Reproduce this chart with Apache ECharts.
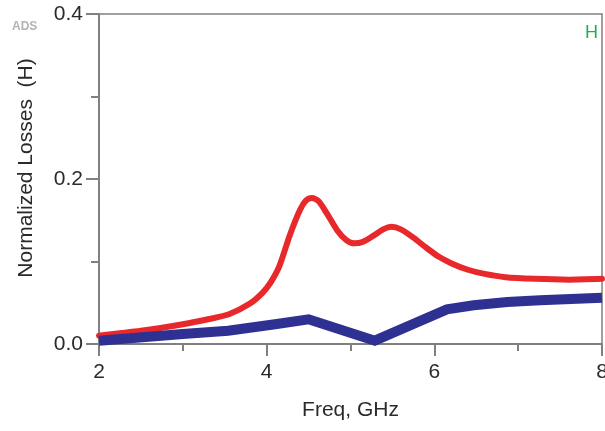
<!DOCTYPE html>
<html>
<head>
<meta charset="utf-8">
<script src="https://cdn.jsdelivr.net/npm/echarts@6/dist/echarts.min.js"></script>
<style>
  html, body { margin: 0; padding: 0; background: #fff; }
  #chart { width: 605px; height: 431px; }
</style>
</head>
<body>
<div id="chart"></div>
<script>
// Frequency sweep (GHz) and normalized losses for the two traces
const redFreq = [2.0, 2.5, 3.0, 3.3, 3.55, 3.8, 3.95, 4.05, 4.15, 4.28, 4.40, 4.47, 4.54, 4.62, 4.72, 4.84, 4.95, 5.05, 5.15, 5.27, 5.39, 5.49, 5.6, 5.75, 5.9, 6.05, 6.2, 6.4, 6.6, 6.85, 7.2, 7.6, 8.0];
const redLoss = [0.010, 0.016, 0.024, 0.030, 0.036, 0.049, 0.062, 0.075, 0.094, 0.133, 0.163, 0.174, 0.177, 0.173, 0.158, 0.138, 0.126, 0.122, 0.124, 0.131, 0.139, 0.142, 0.139, 0.129, 0.117, 0.106, 0.098, 0.090, 0.085, 0.081, 0.079, 0.078, 0.079];

const blueFreq = [2.0, 3.0, 3.54, 4.1, 4.5, 5.29, 6.15, 6.47, 6.87, 7.26, 8.0];
const blueLoss = [0.004, 0.012, 0.016, 0.024, 0.030, 0.004, 0.042, 0.047, 0.051, 0.053, 0.056];

const xTicks = [2, 4, 6, 8];
const yTicks = [0.0, 0.2, 0.4];

const pair = (xs, ys) => xs.map((x, i) => [x, ys[i]]);

const axisGray = '#808080';
const textDark = '#2a2a2a';
const fontFam = '"Liberation Sans", Arial, sans-serif';

const chart = echarts.init(document.getElementById('chart'), null, { renderer: 'canvas' });
chart.setOption({
  animation: false,
  backgroundColor: '#ffffff',
  grid: {
    left: 99, right: 3, top: 14, bottom: 87,
    outerBoundsMode: 'none', containLabel: false,
    show: true, borderColor: axisGray, borderWidth: 1.5, backgroundColor: 'transparent'
  },
  xAxis: {
    type: 'value',
    min: xTicks[0], max: xTicks[xTicks.length - 1], interval: 2,
    name: 'Freq, GHz', nameLocation: 'middle', nameGap: 56,
    nameTextStyle: { fontSize: 21, color: textDark, fontFamily: fontFam },
    axisLine: { show: true, onZero: false, lineStyle: { color: axisGray, width: 2 } },
    axisTick: { show: true, inside: false, length: 12, lineStyle: { color: axisGray, width: 2 } },
    minorTick: { show: true, splitNumber: 2, length: 7, lineStyle: { color: axisGray, width: 2 } },
    splitLine: { show: false },
    axisLabel: {
      margin: 18, fontSize: 21, color: textDark, fontFamily: fontFam,
      formatter: v => String(v)
    }
  },
  yAxis: {
    type: 'value',
    min: 0, max: yTicks[yTicks.length - 1], interval: 0.2,
    name: 'Normalized Losses  (H)', nameLocation: 'middle', nameGap: 62,
    nameTextStyle: { fontSize: 21, color: textDark, fontFamily: fontFam, padding: [0, 0, 0, 22] },
    axisLine: { show: true, lineStyle: { color: axisGray, width: 2 } },
    axisTick: { show: true, inside: false, length: 13, lineStyle: { color: axisGray, width: 2 } },
    minorTick: { show: true, splitNumber: 2, length: 8, lineStyle: { color: axisGray, width: 2 } },
    splitLine: { show: false },
    axisLabel: {
      margin: 16, fontSize: 21, color: textDark, fontFamily: fontFam,
      formatter: v => v.toFixed(1)
    }
  },
  series: [
    {
      name: 'red', type: 'line', data: pair(redFreq, redLoss),
      smooth: 0.25, showSymbol: false, clip: false,
      lineStyle: { color: '#e8292c', width: 6, cap: 'round', join: 'round' }
    },
    {
      name: 'blue', type: 'line', data: pair(blueFreq, blueLoss),
      smooth: false, showSymbol: false, clip: false,
      lineStyle: { color: '#2e3192', width: 10, join: 'miter' }
    }
  ],
  graphic: [
    {
      type: 'text', left: 12, top: 21,
      style: { text: 'ADS', fontSize: 12, fontWeight: 'bold', fill: '#b4b4b4', fontFamily: fontFam }
    },
    {
      type: 'text', left: 585, top: 24,
      style: { text: 'H', fontSize: 18, fill: '#1fae55', fontFamily: fontFam }
    }
  ]
});
</script>
</body>
</html>
